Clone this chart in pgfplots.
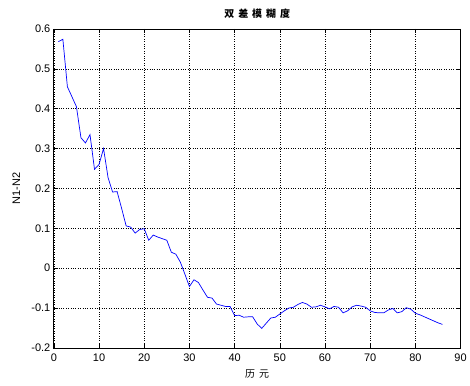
\documentclass[border=0pt]{standalone}
\usepackage{pgfplots}
\pgfplotsset{compat=1.18}
\usepackage{fontspec}
\setmainfont{Liberation Sans}
\newfontfamily\cjk{Noto Sans CJK SC}
\pgfplotstableread{
x y
1 0.568
2 0.574
3 0.455
4 0.43
5 0.405
6 0.327
7 0.314
8 0.335
9 0.248
10 0.26
11 0.300
12 0.227
13 0.191
14 0.192
15 0.15
16 0.106
17 0.103
18 0.088
19 0.097
20 0.099
21 0.070
22 0.083
23 0.078
24 0.074
25 0.070
26 0.040
27 0.035
28 0.015
29 -0.015
30 -0.046
31 -0.029
32 -0.036
33 -0.055
34 -0.073
35 -0.075
36 -0.090
37 -0.093
38 -0.096
39 -0.096
40 -0.119
41 -0.118
42 -0.123
43 -0.122
44 -0.122
45 -0.140
46 -0.151
47 -0.138
48 -0.125
49 -0.123
50 -0.115
51 -0.107
52 -0.100
53 -0.098
54 -0.091
55 -0.086
56 -0.090
57 -0.098
58 -0.097
59 -0.093
60 -0.097
61 -0.102
62 -0.096
63 -0.098
64 -0.112
65 -0.107
66 -0.097
67 -0.093
68 -0.095
69 -0.098
70 -0.107
71 -0.111
72 -0.112
73 -0.112
74 -0.105
75 -0.101
76 -0.112
77 -0.109
78 -0.099
79 -0.103
80 -0.113
81 -0.117
82 -0.122
83 -0.127
84 -0.132
85 -0.137
86 -0.141
}\datatable
\begin{document}
\begin{tikzpicture}
\begin{axis}[
  scale only axis,
  width=408pt, height=320pt,
  xmin=0, xmax=90, ymin=-0.2, ymax=0.6,
  xtick={0,10,...,90},
  ytick={-0.2,-0.1,0,0.1,0.2,0.3,0.4,0.5,0.6},
  yticklabels={-0.2,-0.1,0,0.1,0.2,0.3,0.4,0.5,0.6},
  xticklabel style={font=\fontsize{11}{13}\selectfont},
  yticklabel style={font=\fontsize{11}{13}\selectfont},
  /pgf/number format/assume math mode=true,
  tick align=inside,
  tick pos=both,
  major tick length=4pt,
  tick style={black, line width=0.5pt},
  axis line style={black, line width=0.8pt},
  grid=major,
  major grid style={black, dotted, line width=0.5pt},
  xticklabel shift=2pt,
  title={\cjk\bfseries\fontsize{10}{12}\selectfont 双\hspace{4pt}差\hspace{4pt}模\hspace{4pt}糊\hspace{4pt}度},
  title style={yshift=1pt},
  xlabel={\cjk\fontsize{10}{12}\selectfont 历\hspace{4pt}元},
  ylabel={\fontsize{11}{13}\selectfont N1-N2},
  xlabel style={yshift=-2pt},
  ylabel style={yshift=4.5pt},
]
\addplot[blue, line width=0.7pt, mark=none] table[x=x, y=y] {\datatable};
\end{axis}
\path (current axis.south west) +(-54pt,-38pt) (current axis.north east) +(7pt,29pt);
\end{tikzpicture}
\end{document}
